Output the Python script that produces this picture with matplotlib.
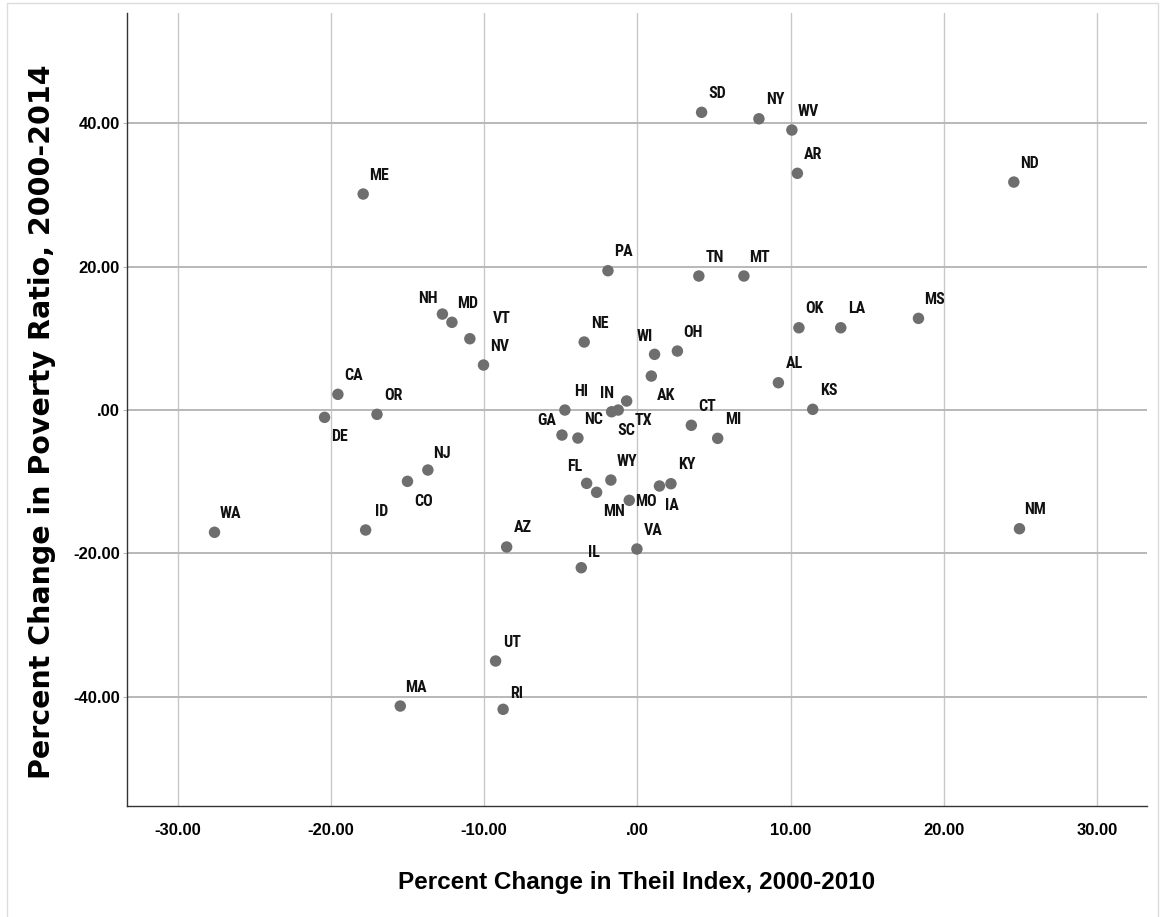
import matplotlib
matplotlib.use("Agg")
import matplotlib.pyplot as plt
from matplotlib import font_manager
from matplotlib.patches import Rectangle
from matplotlib.ticker import FuncFormatter

# state codes and values
states = ["SD", "NY", "WV", "AR", "ND", "ME", "PA", "TN", "MT", "NH",
          "MD", "MS", "OK", "LA", "VT", "NE", "WI", "OH", "NV", "AK",
          "AL", "CA", "HI", "TX", "SC", "IN", "KS", "OR", "DE", "CT",
          "GA", "NC", "MI", "NJ", "CO", "WY", "FL", "KY", "IA", "MN",
          "MO", "ID", "WA", "NM", "AZ", "VA", "IL", "UT", "MA", "RI"]
theil_change = [4.19, 7.93, 10.08, 10.44, 24.56, -17.89, -1.92, 4.01, 6.95, -12.72,
                -12.10, 18.34, 10.54, 13.27, -10.93, -3.47, 1.12, 2.61, -10.04, 0.91,
                9.20, -19.54, -4.73, -0.70, -1.25, -1.68, 11.44, -16.99, -20.41, 3.52,
                -4.92, -3.88, 5.24, -13.67, -15.00, -1.73, -3.31, 2.19, 1.44, -2.66,
                -0.53, -17.73, -27.59, 24.93, -8.53, -0.03, -3.66, -9.25, -15.47, -8.76]
poverty_change = [41.54, 40.64, 39.07, 33.03, 31.81, 30.14, 19.44, 18.70, 18.70, 13.39,
                  12.24, 12.79, 11.48, 11.48, 9.95, 9.49, 7.77, 8.23, 6.28, 4.74,
                  3.81, 2.19, 0.00, 1.26, 0.00, -0.24, 0.10, -0.60, -1.02, -2.13,
                  -3.49, -3.91, -3.95, -8.37, -9.95, -9.77, -10.23, -10.28, -10.60, -11.48,
                  -12.60, -16.74, -17.06, -16.56, -19.11, -19.39, -22.00, -35.02, -41.30, -41.76]

x_ticks = [-30, -20, -10, 0, 10, 20, 30]
y_ticks = [-40, -20, 0, 20, 40]

# label placement (pixels right / up from the point), default up-right
default_offset = (16, 19)
label_offsets = {
    "WI": (-10, 18), "AK": (15, -19), "NH": (-15, 16), "VT": (32, 20),
    "IN": (-5, 18), "GA": (-15, 15), "SC": (8, -20), "TX": (17, -19),
    "FL": (-12, 17), "MN": (17, -19), "MO": (17, -1), "IA": (12, -19),
    "DE": (15, -19), "CO": (16, -20), "IL": (13, 15), "RI": (14, 16),
    "NJ": (14, 17),
}

available = {f.name for f in font_manager.fontManager.ttflist}
narrow = "Liberation Sans"
for name in ["Liberation Sans Narrow", "Arial Narrow", "Roboto Condensed", "DejaVu Sans Condensed"]:
    if name in available:
        narrow = name
        break

plt.rcParams["font.family"] = ["Liberation Sans", "DejaVu Sans"]

fig = plt.figure(figsize=(11.61, 9.17), dpi=100)
ax = fig.add_axes([127 / 1161, 1 - 806 / 917, (1147 - 127) / 1161, (806 - 13) / 917])

ax.scatter(theil_change, poverty_change, s=68, color="#6e6e6e", edgecolors="none", zorder=3)

for st, xv, yv in zip(states, theil_change, poverty_change):
    dx, dy = label_offsets.get(st, default_offset)
    ax.annotate(st, (xv, yv), xytext=(dx, dy), textcoords="offset pixels",
                ha="center", va="center", fontsize=11.5, fontweight="bold",
                family=[narrow, "DejaVu Sans"], color="#111111", zorder=4)

ax.set_xlim(-33.3, 33.25)
ax.set_ylim(-55.25, 55.4)
ax.set_xticks(x_ticks)
ax.set_yticks(y_ticks)


def fmt(v, pos):
    s = f"{v:.2f}"
    return "." + s[2:] if s.startswith("0.") else s


ax.xaxis.set_major_formatter(FuncFormatter(fmt))
ax.yaxis.set_major_formatter(FuncFormatter(fmt))

ax.grid(True, axis="x", color="#c8c8c8", linewidth=1.0, zorder=0)
ax.grid(True, axis="y", color="#b8b8b8", linewidth=1.4, zorder=0)
ax.set_axisbelow(True)

for side in ["top", "right"]:
    ax.spines[side].set_visible(False)
for side in ["left", "bottom"]:
    ax.spines[side].set_color("#333333")
    ax.spines[side].set_linewidth(1.0)

ax.tick_params(axis="x", length=0, pad=12)
ax.tick_params(axis="y", length=3, color="#b8b8b8", pad=2)
for lab in ax.get_xticklabels():
    lab.set_fontsize(12)
    lab.set_fontweight("bold")
for lab in ax.get_yticklabels():
    lab.set_fontsize(12)
    lab.set_fontweight("bold")

ax.set_xlabel("Percent Change in Theil Index, 2000-2010", fontsize=17.5, fontweight="bold", labelpad=24)
ax.set_ylabel("Percent Change in Poverty Ratio, 2000-2014", fontsize=20.5, fontweight="bold",
              family=["DejaVu Sans"], va="center")
ax.yaxis.set_label_coords(-0.0833, 0.484)

# thin frame round the picture
fig.patches.append(Rectangle((7 / 1161, -0.01), (1158 - 7) / 1161, 1.01 - 3 / 917,
                             transform=fig.transFigure, fill=False,
                             edgecolor="#dcdcdc", linewidth=1.0))

fig.savefig("out.png", dpi=100)
